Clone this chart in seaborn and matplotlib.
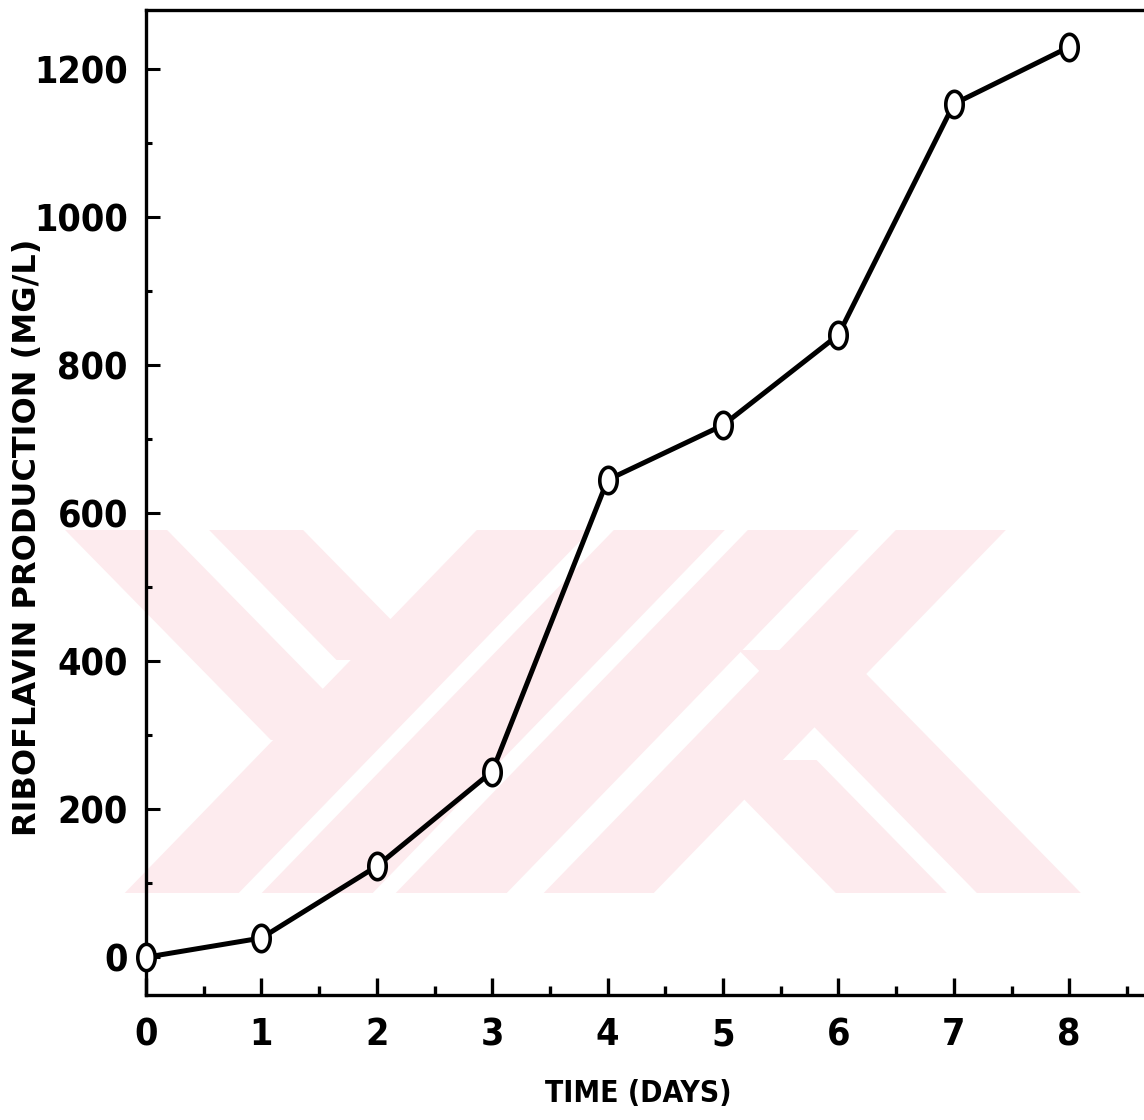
import numpy as np
import pandas as pd
import matplotlib
matplotlib.use("Agg")
import matplotlib.pyplot as plt
from matplotlib.path import Path
from matplotlib.patches import Polygon
from matplotlib.ticker import MultipleLocator
import seaborn as sns

# ---- data ----
days = [0, 1, 2, 3, 4, 5, 6, 7, 8]
riboflavin = [0, 26, 123, 251, 645, 719, 841, 1153, 1230]
x_ticks = [0, 1, 2, 3, 4, 5, 6, 7, 8]
y_ticks = [0, 200, 400, 600, 800, 1000, 1200]
x_label = "TIME (DAYS)"
y_label = "RIBOFLAVIN PRODUCTION (MG/L)"

sns.set_style("ticks")
plt.rcParams['font.family'] = ['DejaVu Sans']
for k in ['text.color', 'axes.labelcolor', 'xtick.color', 'ytick.color', 'axes.edgecolor']:
    plt.rcParams[k] = 'black'

W, H = 1144, 1120
fig = plt.figure(figsize=(W / 100, H / 100), dpi=100)
ax = fig.add_axes([146 / W, (H - 995) / H, (W - 146) / W, (995 - 10) / H])
ax.set_facecolor('none')

# ---- watermark (light pink bands), in figure pixels ----
pink = '#fdebee'
def band(x_top, width, slope, y0, y1, ref_y=535):
    xl0 = x_top + slope * (y0 - ref_y)
    xl1 = x_top + slope * (y1 - ref_y)
    pts = [(xl0, y0), (xl0 + width, y0), (xl1 + width, y1), (xl1, y1)]
    return [(px / W, 1 - py / H) for px, py in pts]

bands = [
    band(70, 102, 0.98, 530, 740),
    band(214, 94, 0.98, 530, 660),
    band(472, 114, -0.97, 530, 893),
    band(609, 111, -0.97, 530, 893),
    band(743, 111, -0.97, 530, 893),
    band(891, 110, -0.97, 530, 893),
    band(971 - 0.98 * (887 - 535), 104, 0.98, 650, 893),
    band(830 - 0.98 * (887 - 535), 111, 0.98, 760, 893),
]
for pts in bands:
    fig.patches.append(Polygon(pts, closed=True, facecolor=pink, edgecolor='none',
                               transform=fig.transFigure, zorder=-5))

# ---- ellipse marker ----
t = np.linspace(0, 2 * np.pi, 60)
ell = Path(np.column_stack([0.66 * np.cos(t), np.sin(t)]), closed=True)

df = pd.DataFrame({"day": days, "value": riboflavin})
sns.lineplot(data=df, x="day", y="value", ax=ax, color='black', linewidth=3.6,
             marker=ell, markersize=19, markerfacecolor='white',
             markeredgecolor='black', markeredgewidth=2.6, zorder=5, clip_on=False)

ax.set_xlim(0, (W - 146) / 115.4)
ax.set_ylim(-51, 1280)

ax.set_xticks(x_ticks)
ax.set_xticklabels([str(v) for v in x_ticks])
ax.set_yticks(y_ticks)
ax.set_yticklabels([str(v) for v in y_ticks])
ax.xaxis.set_minor_locator(MultipleLocator(0.5))
ax.yaxis.set_minor_locator(MultipleLocator(100))

for s in ['left', 'bottom', 'top']:
    ax.spines[s].set_linewidth(2.4)
    ax.spines[s].set_color('black')
ax.spines['right'].set_visible(False)

ax.tick_params(axis='x', which='major', direction='in', length=12, width=2.4,
               pad=16, labelsize=27, top=False)
ax.tick_params(axis='x', which='minor', direction='in', length=6.5, width=2.4, top=False)
ax.tick_params(axis='y', which='major', direction='in', length=10, width=2.2,
               pad=13, labelsize=27, right=False)
ax.tick_params(axis='y', which='minor', direction='in', length=4, width=2.2, right=False)
for lab in ax.get_xticklabels() + ax.get_yticklabels():
    lab.set_fontweight('bold')
    lab.set_fontstretch('condensed')

ax.set_xlabel("")
ax.set_ylabel("")
fig.text(638 / W, 1 - 1094 / H, x_label, ha='center', va='center',
         fontsize=21.5, fontweight='bold', fontstretch='condensed')
fig.text(28 / W, 1 - 537 / H, y_label, ha='center', va='center', rotation=90,
         fontsize=23, fontweight='bold')

fig.savefig("out.png", dpi=100)
